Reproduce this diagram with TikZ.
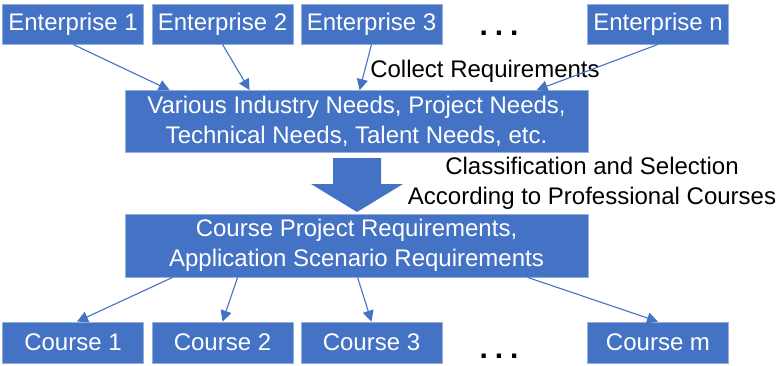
\documentclass[tikz,border=0pt]{standalone}
\usepackage{fontspec}
\setmainfont{Liberation Sans}
\usetikzlibrary{arrows.meta}
\definecolor{boxblue}{RGB}{68,114,196}
\definecolor{edgeblue}{RGB}{150,175,220}
\begin{document}
\begin{tikzpicture}[x=1pt,y=-1pt,>={Triangle[length=11pt,width=11pt]},
    box/.style={draw=edgeblue,line width=.8pt,fill=boxblue,text=white,inner sep=0pt,
        align=center,font=\fontsize{24}{30}\selectfont},
    small/.style={box,minimum width=141pt,minimum height=40pt},
    wide/.style={box,minimum width=463pt,minimum height=62pt},
    link/.style={->,draw=boxblue,line width=1.1pt},
    say/.style={font=\fontsize{24}{30}\selectfont,align=center,inner sep=0pt},
    dots/.style={font=\fontsize{30}{30}\selectfont\bfseries,inner sep=0pt,anchor=base}]
        \useasboundingbox (0,0) rectangle (782,365);
        % enterprises
        \node[small] (e1) at (73,24){Enterprise 1};
        \node[small] (e2) at (222.5,24){Enterprise 2};
        \node[small] (e3) at (371.5,24){Enterprise 3};
        \node[small] (en) at (658,24){Enterprise n};
        \node[dots] (edots) at (499,35){.\hspace{7pt}.\hspace{7pt}.};
        % needs
        \node[wide] (needs) at (356.5,121.5){Various Industry Needs, Project Needs,\\Technical Needs, Talent Needs, etc.};
        \node[say] (collect) at (485,71){Collect Requirements};
        \draw[link] (e1.south)--([xshift=45pt]needs.north west);
        \draw[link] (e2.south)--([xshift=125pt]needs.north west);
        \draw[link] (e3.south)--([xshift=235pt]needs.north west);
        \draw[link] (en.south)--([xshift=412pt]needs.north west);
        % big arrow
        \fill[boxblue] (333,158)--(381,158)--(381,184)--(403,184)--(357,212)--(311,184)--(333,184)--cycle;
        \node[say] (classify) at (592,183){Classification and Selection\\According to Professional Courses};
        % course requirements
        \node[wide,minimum height=63pt] (course) at (356.5,245.5){Course Project Requirements,\\Application Scenario Requirements};
        \node[small,minimum height=41pt] (c1) at (73,342.5){Course 1};
        \node[small,minimum height=41pt] (c2) at (222.5,342.5){Course 2};
        \node[small,minimum height=41pt] (c3) at (371.5,342.5){Course 3};
        \node[small,minimum height=41pt] (cm) at (658,342.5){Course m};
        \node[dots] (cdots) at (499,358){.\hspace{7pt}.\hspace{7pt}.};
        \draw[link] ([xshift=48pt]course.south west)--([xshift=4pt]c1.north);
        \draw[link] ([xshift=113pt]course.south west)--(c2.north);
        \draw[link] ([xshift=233pt]course.south west)--(c3.north);
        \draw[link] ([xshift=403pt]course.south west)--(cm.north);
\end{tikzpicture}
\end{document}
